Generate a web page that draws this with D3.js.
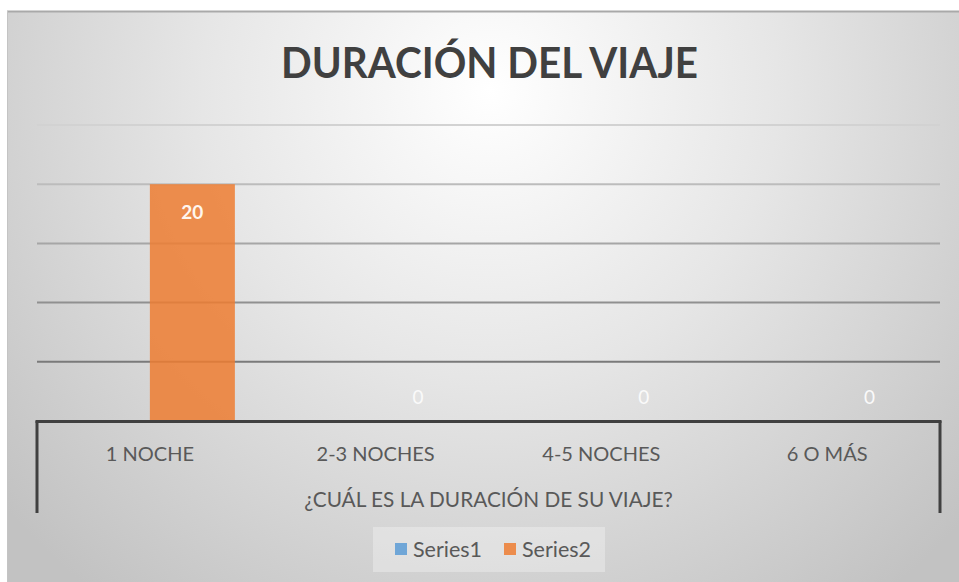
<!DOCTYPE html>
<html>
<head>
<meta charset="utf-8">
<script src="https://cdn.jsdelivr.net/npm/d3@7.9.0/dist/d3.min.js"></script>
<style>
  html, body { margin: 0; padding: 0; background: #fff; }
  svg { display: block; }
</style>
</head>
<body>
<svg id="chart" width="959" height="582"></svg>
<script>
// chart data
const categories = ["1 NOCHE", "2-3 NOCHES", "4-5 NOCHES", "6 O MÁS"];
const seriesNames = ["Series1", "Series2"];
const series1 = [0, 0, 0, 0];
const series2 = [20, 0, 0, 0];
const yTicks = [5, 10, 15, 20, 25];
const title = "DURACIÓN DEL VIAJE";
const groupLabel = "¿CUÁL ES LA DURACIÓN DE SU VIAJE?";

const colors = { Series1: "#5B9BD5", Series2: "#ED7D31" };
const font = "Lato, 'Open Sans', sans-serif";

const svg = d3.select("#chart");

// background gradient
const defs = svg.append("defs");
const grad = defs.append("radialGradient")
  .attr("id", "bg")
  .attr("gradientUnits", "userSpaceOnUse")
  .attr("cx", 490).attr("cy", 90).attr("r", 640)
  .attr("fx", 490).attr("fy", 90);
grad.append("stop").attr("offset", "0%").attr("stop-color", "#ffffff");
grad.append("stop").attr("offset", "45%").attr("stop-color", "#e6e6e6");
grad.append("stop").attr("offset", "100%").attr("stop-color", "#c2c2c2");

svg.append("rect")
  .attr("x", 7).attr("y", 11)
  .attr("width", 959 - 7).attr("height", 582 - 11)
  .attr("fill", "url(#bg)");
svg.append("line")
  .attr("x1", 7).attr("x2", 959).attr("y1", 11.5).attr("y2", 11.5)
  .attr("stroke", "#a9a9a9").attr("stroke-width", 2);
svg.append("line")
  .attr("x1", 7.5).attr("x2", 7.5).attr("y1", 11).attr("y2", 582)
  .attr("stroke", "#c4c4c4").attr("stroke-width", 1);

// scales
const plot = { left: 37, right: 940, top: 125, bottom: 421 };
const x0 = d3.scaleBand().domain(categories).range([plot.left, plot.right]).padding(0);
const groupW = x0.bandwidth() * 0.753;
const x1 = d3.scaleBand().domain(seriesNames)
  .range([(x0.bandwidth() - groupW) / 2, (x0.bandwidth() + groupW) / 2]).padding(0);
const y = d3.scaleLinear().domain([0, 25]).range([plot.bottom, plot.top]);

// gridlines, lighter toward top
const gridColor = d3.scaleLinear().domain([5, 25]).range(["#7a7a7a", "#d2d2d2"]);
svg.append("g")
  .selectAll("line")
  .data(yTicks)
  .join("line")
  .attr("x1", plot.left).attr("x2", plot.right)
  .attr("y1", d => y(d)).attr("y2", d => y(d))
  .attr("stroke", d => gridColor(d))
  .attr("stroke-width", 2);

// bars
const rows = categories.map((c, i) => ({ cat: c, Series1: series1[i], Series2: series2[i] }));
const groups = svg.append("g")
  .selectAll("g")
  .data(rows)
  .join("g")
  .attr("transform", d => `translate(${x0(d.cat)},0)`);

groups.selectAll("rect")
  .data(d => seriesNames.map(s => ({ s, v: d[s] })))
  .join("rect")
  .attr("x", d => x1(d.s))
  .attr("width", x1.bandwidth())
  .attr("y", d => y(d.v))
  .attr("height", d => y(0) - y(d.v))
  .attr("fill", d => colors[d.s])
  .attr("fill-opacity", 0.85);

// data labels (Series2 only)
groups.append("text")
  .attr("x", x1("Series2") + x1.bandwidth() / 2)
  .attr("y", d => d.Series2 > 0 ? y(d.Series2) + 35 : y(0) - 17)
  .attr("text-anchor", "middle")
  .attr("font-family", font)
  .attr("font-size", 19)
  .attr("font-weight", d => d.Series2 > 0 ? "bold" : "normal")
  .attr("fill", d => d.Series2 > 0 ? "#fff6ee" : "#fafafa")
  .text(d => d.Series2);

// category axis
const axisG = svg.append("g");
axisG.append("line")
  .attr("x1", plot.left - 1.5).attr("x2", plot.right + 1.5)
  .attr("y1", plot.bottom + 0.5).attr("y2", plot.bottom + 0.5)
  .attr("stroke", "#404040").attr("stroke-width", 3);
axisG.selectAll("line.edge")
  .data([plot.left, plot.right])
  .join("line")
  .attr("class", "edge")
  .attr("x1", d => d).attr("x2", d => d)
  .attr("y1", plot.bottom).attr("y2", 513)
  .attr("stroke", "#404040").attr("stroke-width", 3);

axisG.selectAll("text.cat")
  .data(categories)
  .join("text")
  .attr("class", "cat")
  .attr("x", d => x0(d) + x0.bandwidth() / 2)
  .attr("y", 461)
  .attr("text-anchor", "middle")
  .attr("font-family", font)
  .attr("font-size", 20)
  .attr("fill", "#595959")
  .text(d => d);

axisG.append("text")
  .attr("x", (plot.left + plot.right) / 2)
  .attr("y", 507)
  .attr("text-anchor", "middle")
  .attr("font-family", font)
  .attr("font-size", 20.8)
  .attr("fill", "#595959")
  .text(groupLabel);

// title
svg.append("text")
  .attr("x", 281)
  .attr("y", 78)
  .attr("textLength", 417)
  .attr("lengthAdjust", "spacingAndGlyphs")
  .attr("font-family", font)
  .attr("font-size", 42)
  .attr("font-weight", "bold")
  .attr("fill", "#404040")
  .text(title);

// legend
const legend = svg.append("g");
legend.append("rect")
  .attr("x", 373).attr("y", 527).attr("width", 232).attr("height", 45)
  .attr("fill", "#ffffff").attr("fill-opacity", 0.3);
const legendX = [395, 504];
const items = legend.selectAll("g")
  .data(seriesNames)
  .join("g")
  .attr("transform", (d, i) => `translate(${legendX[i]},0)`);
items.append("rect")
  .attr("x", 0).attr("y", 543).attr("width", 12).attr("height", 12)
  .attr("fill", d => colors[d]).attr("fill-opacity", 0.85);
items.append("text")
  .attr("x", 18).attr("y", 557)
  .attr("font-family", font)
  .attr("font-size", 21.5)
  .attr("fill", "#595959")
  .text(d => d);
</script>
</body>
</html>
